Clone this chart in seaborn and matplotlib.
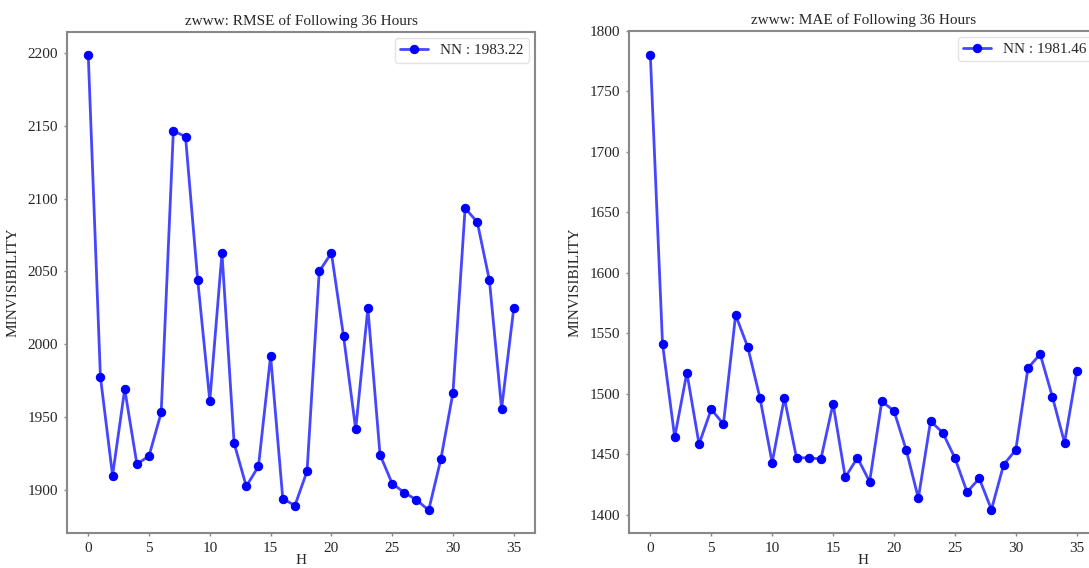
import numpy as np
import pandas as pd
import seaborn as sns
import matplotlib
matplotlib.use("Agg")
import matplotlib.pyplot as plt

# hours ahead
hours = list(range(36))

# RMSE per hour
rmse = [2198.6, 1977.7, 1909.9, 1969.2, 1917.8, 1923.3, 1953.2, 2146.4, 2142.5, 2044.3,
        1961.2, 2062.6, 1932.0, 1902.5, 1916.2, 1992.0, 1894.1, 1889.3, 1913.0, 2050.0,
        2062.6, 2005.5, 1941.6, 2024.7, 1924.2, 1904.4, 1898.2, 1893.2, 1886.1, 1921.0,
        1966.7, 2093.4, 2083.8, 2043.8, 1955.7, 2024.7]

# MAE per hour
mae = [1780.2, 1541.4, 1464.2, 1517.5, 1458.5, 1487.3, 1475.0, 1565.2, 1538.6, 1496.6,
       1443.1, 1496.6, 1447.2, 1447.2, 1446.1, 1491.9, 1431.0, 1447.2, 1427.4, 1493.9,
       1485.9, 1453.8, 1413.7, 1477.4, 1468.0, 1447.0, 1418.9, 1430.1, 1404.4, 1441.4,
       1453.8, 1521.3, 1532.9, 1497.7, 1459.6, 1518.6]

titles = ["zwww: RMSE of Following 36 Hours", "zwww: MAE of Following 36 Hours"]
legend_labels = ["NN : 1983.22", "NN : 1981.46"]

sns.set_style("white")
plt.rcParams['font.family'] = ['Liberation Serif', 'DejaVu Serif']

fig = plt.figure(figsize=(10.89, 5.68), dpi=100)
# right panel runs past the figure edge, like the cropped original
ax1 = fig.add_axes([0.0615, 0.0616, 0.4298, 0.882])
ax2 = fig.add_axes([0.5776, 0.0616, 0.4307, 0.884])

for ax, vals, title, lab in zip([ax1, ax2], [rmse, mae], titles, legend_labels):
    df = pd.DataFrame({"H": hours, "val": vals})
    sns.lineplot(data=df, x="H", y="val", ax=ax, color="#4646ff", linewidth=2,
                 marker="o", markersize=6, markerfacecolor="blue",
                 markeredgecolor="blue", label=lab)
    ax.set_title(title, fontsize=11, pad=5)
    ax.set_xlabel("H", fontsize=11, labelpad=-1)
    ax.set_ylabel("MINVISIBILITY", fontsize=11, labelpad=6)
    ax.set_xticks([0, 5, 10, 15, 20, 25, 30, 35])
    ax.tick_params(axis="both", labelsize=11, length=2.5, width=1, color="#888888",
                   direction="out", bottom=True, left=True, pad=4)
    for sp in ax.spines.values():
        sp.set_color("#888888")
        sp.set_linewidth(1.5)
    leg = ax.legend(loc="upper right", fontsize=11, frameon=True, handlelength=1.8,
                    borderaxespad=0.4, borderpad=0.35)
    leg.get_frame().set_edgecolor("#dddddd")

ax2.set_ylim(1385, 1800)
ax2.set_yticks([1400, 1450, 1500, 1550, 1600, 1650, 1700, 1750, 1800])

fig.savefig("out.png", dpi=100)
